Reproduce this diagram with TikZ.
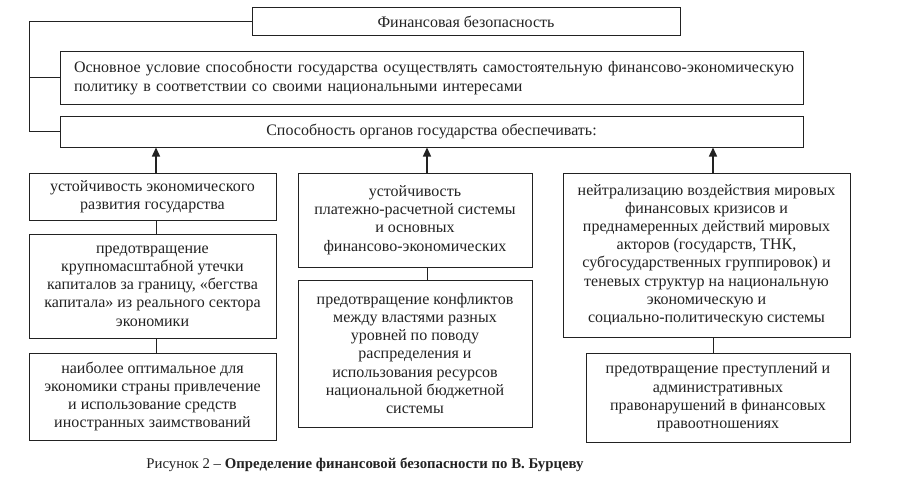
\documentclass[tikz,border=0pt]{standalone}
\usepackage{fontspec}
\setmainfont{Liberation Serif}
\usetikzlibrary{arrows.meta}
\definecolor{ink}{HTML}{222222}
\tikzset{
  box/.style={draw=ink, line width=1pt, inner sep=0pt, align=center, text=ink,
    font=\fontsize{16}{18.2}\selectfont},
  conn/.style={draw=ink, line width=1pt},
  arr/.style={draw=ink, line width=1.4pt, -{Triangle[length=9pt,width=8pt]}}
}
\begin{document}
\begin{tikzpicture}[x=1pt,y=-1pt]
\useasboundingbox[fill=white] (0,0) rectangle (900,487);
% top block
\node[box, minimum width=428, minimum height=28] (top) at (466,22) {Финансовая безопасность};
\node[box, minimum width=743, minimum height=52, align=left, text width=715] (b2) at (431.5,78)
  {\makebox[715pt][s]{Основное условие способности государства осуществлять самостоятельную финансово-экономическую}\\
   политику в соответствии со своими национальными интересами};
\node[box, minimum width=743, minimum height=31] (b3) at (431.5,131.5) {Способность органов государства обеспечивать:};
\coordinate (bx) at (29,0);
\draw[conn] (top.west) -- (top.west -| bx) |- (b3.west);
\draw[conn] (b2.west -| bx) -- (b2.west);
% columns x
\coordinate (cL) at (156,0);
\coordinate (cM) at (427,0);
\coordinate (cR) at (713,0);
% left column
\node[box, minimum width=247, minimum height=47] (L1) at (152.5,196.5)
  {устойчивость экономического\\развития государства};
\node[box, minimum width=247, minimum height=104] (L2) at (152.5,286)
  {предотвращение\\крупномасштабной утечки\\капиталов за границу, «бегства\\капитала» из реального сектора\\экономики};
\node[box, minimum width=247, minimum height=87] (L3) at (152.5,396.5)
  {наиболее оптимальное для\\экономики страны привлечение\\и использование средств\\иностранных заимствований};
% middle column
\node[box, minimum width=234, minimum height=94] (M1) at (415,220)
  {устойчивость\\платежно-расчетной системы\\и основных\\финансово-экономических};
\node[box, minimum width=234, minimum height=147] (M2) at (415,353.5)
  {предотвращение конфликтов\\между властями разных\\уровней по поводу\\распределения и\\использования ресурсов\\национальной бюджетной\\системы};
% right column
\node[box, minimum width=287, minimum height=164] (R1) at (706.5,255)
  {нейтрализацию воздействия мировых\\финансовых кризисов и\\преднамеренных действий мировых\\акторов (государств, ТНК,\\субгосударственных группировок) и\\теневых структур на национальную\\экономическую и\\социально-политическую системы};
\node[box, minimum width=264, minimum height=89] (R2) at (718,397.5)
  {предотвращение преступлений и\\административных\\правонарушений в финансовых\\правоотношениях};
% arrows up
\draw[arr] (L1.north -| cL) -- (b3.south -| cL);
\draw[arr] (M1.north -| cM) -- (b3.south -| cM);
\draw[arr] (R1.north -| cR) -- (b3.south -| cR);
% vertical links
\draw[conn] (L1.south -| cL) -- (L2.north -| cL);
\draw[conn] (L2.south -| cL) -- (L3.north -| cL);
\draw[conn] (M1.south -| cM) -- (M2.north -| cM);
\draw[conn] (R1.south -| cR) -- (R2.north -| cR);
% caption
\node[text=ink, font=\fontsize{14.8}{17}\selectfont, inner sep=0pt] (cap) at (365,465)
  {Рисунок 2 – \textbf{Определение финансовой безопасности по В. Бурцеву}};
\end{tikzpicture}
\end{document}
